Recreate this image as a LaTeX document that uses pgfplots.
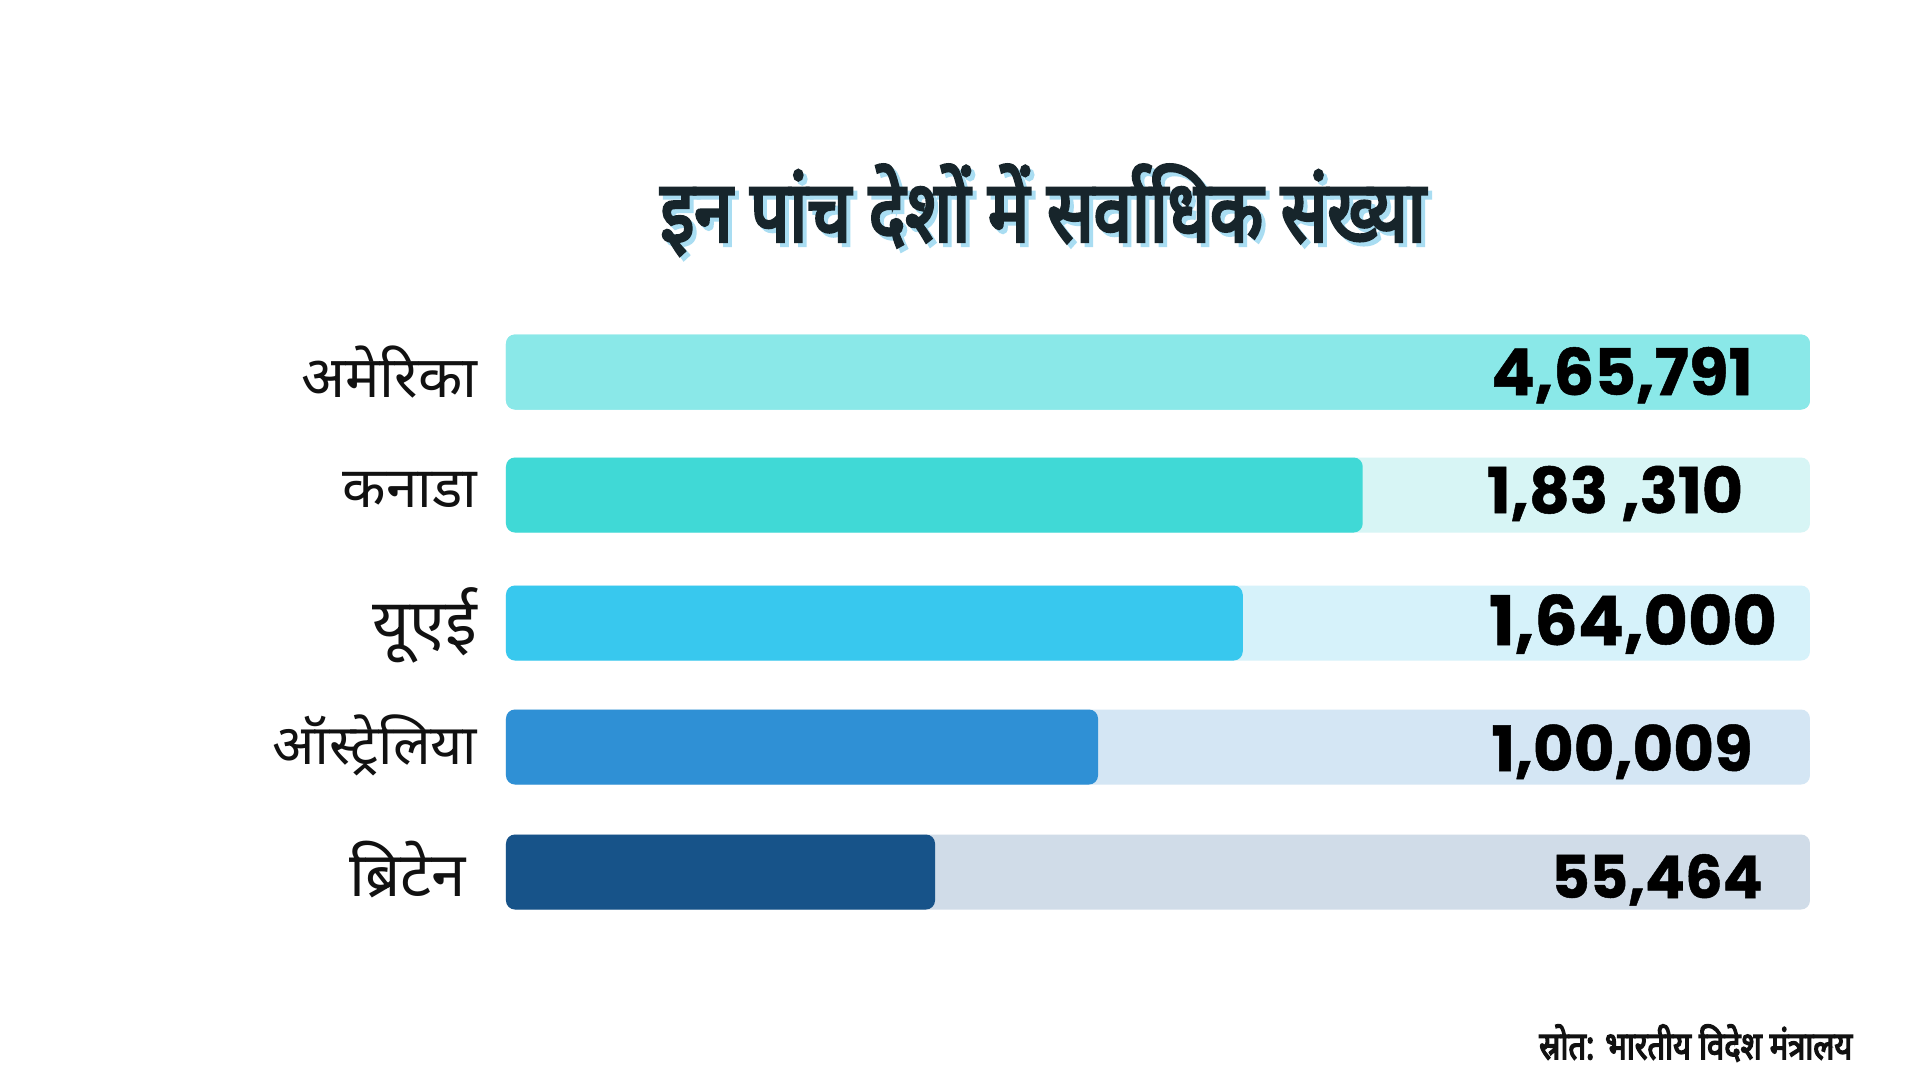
\documentclass[border=0pt]{standalone}
\usepackage{pgfplots}
\pgfplotsset{compat=1.18}
\usepackage{fontspec}
\setmainfont{Noto Sans}
\newfontfamily\deva[Script=Devanagari]{Noto Sans}
\newfontfamily\devab[Script=Devanagari,FakeBold=3.5,FakeStretch=0.8]{Noto Sans}
\newfontfamily\numfont[BoldFeatures={FakeBold=0.8}]{Poppins}
\definecolor{usaB}{HTML}{8AE8E8}
\definecolor{canB}{HTML}{40D9D6}
\definecolor{canT}{HTML}{D7F5F5}
\definecolor{uaeB}{HTML}{38C8EE}
\definecolor{uaeT}{HTML}{D6F2FA}
\definecolor{ausB}{HTML}{2F90D5}
\definecolor{ausT}{HTML}{D4E6F4}
\definecolor{gbrB}{HTML}{175389}
\definecolor{gbrT}{HTML}{D0DCE8}
\definecolor{txt}{HTML}{111111}
\definecolor{ttl}{HTML}{17252B}
\definecolor{shadow}{HTML}{A9DDF2}
\begin{document}
\begin{tikzpicture}[x=0.1mm,y=-0.1mm]
\fill[white] (0,0) rectangle (1920,1080);
\begin{axis}[at={(50.6mm,-108mm)}, anchor=south west, scale only axis,
  width=130.4mm, height=108mm, xmin=0, xmax=100, ymin=0, ymax=1080,
  y dir=reverse, hide axis, clip=false, xbar, bar width=75, bar shift=0pt]
% background tracks (100 = full track)
\addplot[fill=usaB, draw=none, rounded corners=0.9mm] coordinates {(100,372)};
\addplot[fill=canT, draw=none, rounded corners=0.9mm] coordinates {(100,495)};
\addplot[fill=uaeT, draw=none, rounded corners=0.9mm] coordinates {(100,623)};
\addplot[fill=ausT, draw=none, rounded corners=0.9mm] coordinates {(100,747)};
\addplot[fill=gbrT, draw=none, rounded corners=0.9mm] coordinates {(100,872)};
% bars (length as drawn, % of track)
\addplot[fill=usaB, draw=none, rounded corners=0.9mm] coordinates {(100,372)};
\addplot[fill=canB, draw=none, rounded corners=0.9mm] coordinates {(65.7,495)};
\addplot[fill=uaeB, draw=none, rounded corners=0.9mm] coordinates {(56.5,623)};
\addplot[fill=ausB, draw=none, rounded corners=0.9mm] coordinates {(45.4,747)};
\addplot[fill=gbrB, draw=none, rounded corners=0.9mm] coordinates {(32.9,872)};
\end{axis}
% title with shadow
\node[text=shadow, font=\devab\fontsize{24.5}{28}\selectfont] at (1047,214) {इन पांच देशों में सर्वाधिक संख्या};
\node[text=ttl, font=\devab\fontsize{24.5}{28}\selectfont] at (1043,210) {इन पांच देशों में सर्वाधिक संख्या};
% category labels
\begin{scope}[every node/.style={anchor=east, inner sep=0pt, text=txt}]
\node[font=\deva\fontsize{16.4}{20}\selectfont] at (478,372) {अमेरिका};
\node[font=\deva\fontsize{16.1}{20}\selectfont] at (478,490) {कनाडा};
\node[font=\deva\fontsize{18.4}{22}\selectfont] at (478,625) {यूएई};
\node[font=\deva\fontsize{15.8}{20}\selectfont] at (478,745) {ऑस्ट्रेलिया};
\node[font=\deva\fontsize{17.6}{20}\selectfont] at (467,870) {ब्रिटेन};
\end{scope}
% value labels
\begin{scope}[every node/.style={anchor=base, text=black}]
\node[font=\numfont\bfseries\fontsize{18.3}{20}\selectfont] at (1622,395) {4,65,791};
\node[font=\numfont\bfseries\fontsize{18.0}{20}\selectfont] at (1615,513) {1,83 ,310};
\node[font=\numfont\bfseries\fontsize{19.4}{22}\selectfont] at (1633,645) {1,64,000};
\node[font=\numfont\bfseries\fontsize{17.8}{20}\selectfont] at (1622,771) {1,00,009};
\node[font=\numfont\bfseries\fontsize{16.8}{20}\selectfont] at (1657,898) {55,464};
\end{scope}
% source
\node[anchor=east, inner sep=0pt, text=txt, font=\devab\fontsize{11}{13}\selectfont] at (1853,1043) {स्रोत: भारतीय विदेश मंत्रालय};
\end{tikzpicture}
\end{document}
